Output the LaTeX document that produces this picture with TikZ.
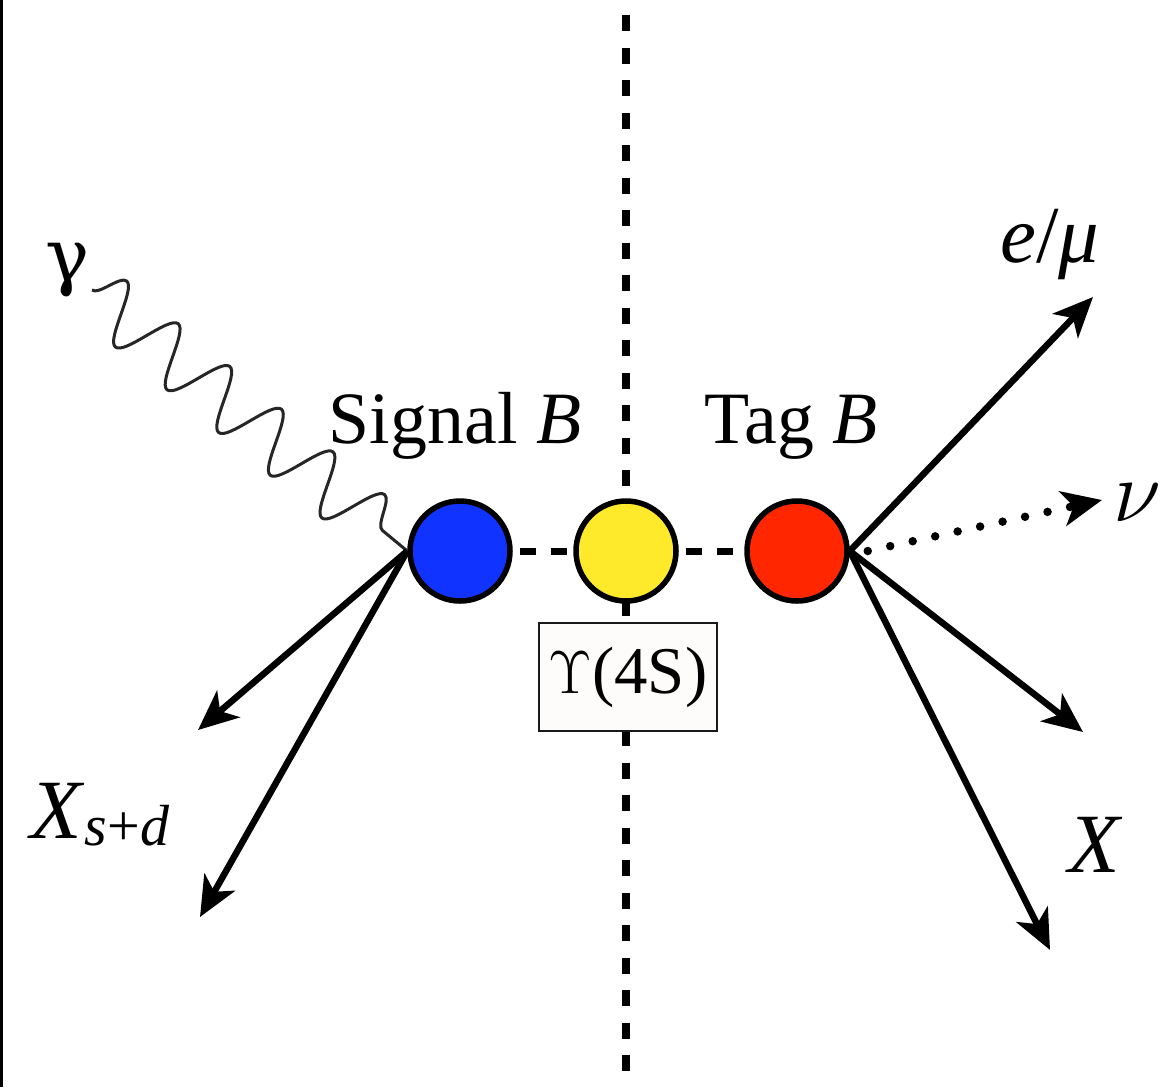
\documentclass[tikz,border=0pt]{standalone}
\usepackage{fontspec}
\setmainfont{Liberation Serif}
\newfontfamily\greekfont{DejaVu Serif}
\usetikzlibrary{arrows.meta,decorations.pathmorphing}

\definecolor{sigblue}{RGB}{17,51,255}
\definecolor{upsyellow}{RGB}{255,233,43}
\definecolor{tagred}{RGB}{255,38,0}
\definecolor{boxwhite}{RGB}{254,252,250}

\tikzset{
  meson/.style={circle,draw=black,line width=0.55mm,minimum size=10mm,inner sep=0pt},
  track/.style={line width=0.65mm,-{Stealth[length=4mm,width=3.5mm,inset=1.1mm]}},
  photon/.style={decorate,decoration={snake,segment length=6.7mm,amplitude=2.9mm},
    line width=0.3mm,black!85},
  cut/.style={line width=0.8mm,dash pattern=on 1.6mm off 1.65mm},
  link/.style={line width=0.7mm,dash pattern=on 1.6mm off 1.5mm,dash phase=2.4mm},
  lbl/.style={font=\fontsize{21}{25}\selectfont,anchor=base,inner sep=0pt},
  biglbl/.style={lbl,font=\fontsize{24}{28}\selectfont},
}

\begin{document}
\begin{tikzpicture}[x=0.1mm,y=-0.1mm]
  \useasboundingbox (0,0) rectangle (1160,1087);

  % frame edge
  \draw[line width=0.3mm] (1.5,0) -- (1.5,1087);

  % cut between the two B mesons
  \draw[cut] (626,15) -- (626,1087);

  % mesons
  \node[meson,fill=sigblue] (sigB) at (460,551) {};
  \node[meson,fill=upsyellow] (ups) at (626,551) {};
  \node[meson,fill=tagred] (tagB) at (797,551) {};
  \draw[link] (sigB) -- (ups);
  \draw[link] (ups) -- (tagB);

  \node[draw=black!90,line width=0.25mm,fill=boxwhite,minimum width=17.8mm,
    minimum height=10.8mm,inner sep=0pt,font=\fontsize{19}{23}\selectfont]
    (ups4s) at (628,677) {$\Upsilon$(4S)};

  % labels
  \node[lbl] (sigtxt) at (455,443) {Signal \textit{B}};
  \node[lbl] (tagtxt) at (791,443) {Tag \textit{B}};
  \node[lbl] (gam) at (68,281) {\greekfont γ};
  \node[lbl,font=\fontsize{23}{27}\selectfont] (lep) at (1050,262)
    {\textit{e}/\textit{μ}};
  \node[biglbl] (nu) at (1137,521) {$\nu$};
  \node[biglbl] (xtag) at (1096,872) {\textit{X}};
  \node[biglbl,anchor=base west] (xsd) at (30,838)
    {\textit{X}\raisebox{-0.7mm}{\fontsize{16.5}{20}\selectfont\textit{s}+\textit{d}}};

  % photon
  \coordinate (gstart) at (92,290);
  \draw[photon] (gstart) -- (sigB.west);

  % signal side
  \coordinate (xs1) at (198,730);
  \coordinate (xs2) at (200,917);
  \foreach \c in {xs1,xs2}
    \draw[track] (sigB.west) -- (\c);

  % tag side
  \coordinate (lepend) at (1093,297);
  \coordinate (nuend) at (1102,500);
  \coordinate (xt1) at (1083,732);
  \coordinate (xt2) at (1050,950);
  \foreach \c in {lepend,xt1,xt2}
    \draw[track] (tagB.east) -- (\c);
  \draw[track,line cap=round,dash pattern=on 0pt off 2.3mm,line width=0.85mm]
    ([xshift=1.8mm]tagB.east) -- (nuend);
\end{tikzpicture}
\end{document}
